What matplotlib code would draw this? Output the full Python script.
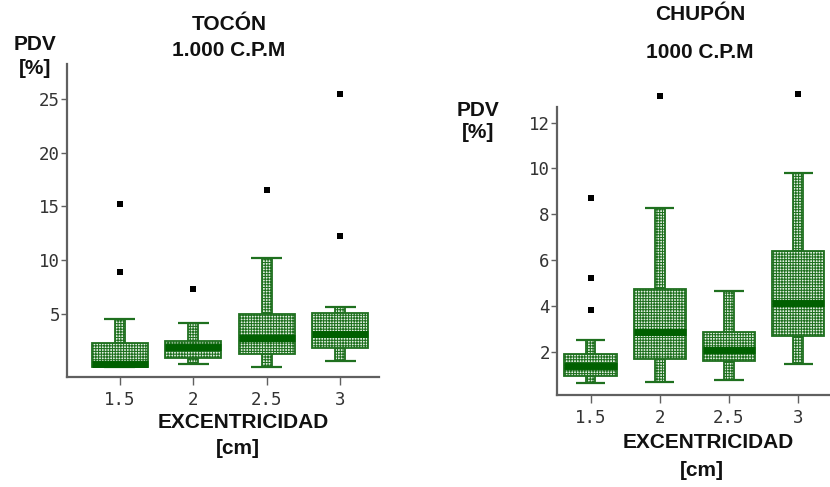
import matplotlib
matplotlib.use('Agg')
import matplotlib.pyplot as plt
import numpy as np

categories = ['1.5', '2', '2.5', '3']

# TOCÓN 1.000 C.P.M
toc_whislo = [0.1, 0.43, 0.12, 0.7]
toc_q1 = [0.1, 0.95, 1.36, 1.9]
toc_med = [0.45, 2.0, 2.85, 3.2]
toc_q3 = [2.35, 2.5, 5.0, 5.15]
toc_whishi = [4.6, 4.2, 10.2, 5.7]
toc_fliers = [[15.2, 8.9], [7.35], [16.5], [25.4, 12.25]]
toc_yticks = [5, 10, 15, 20, 25]

# CHUPÓN 1000 C.P.M
chu_whislo = [0.62, 0.69, 0.76, 1.46]
chu_q1 = [0.91, 1.67, 1.59, 2.7]
chu_med = [1.35, 2.86, 2.07, 4.11]
chu_q3 = [1.89, 4.74, 2.86, 6.41]
chu_whishi = [2.5, 8.29, 4.66, 9.82]
chu_fliers = [[8.7, 5.23, 3.82], [13.17], [], [13.24]]
chu_yticks = [2, 4, 6, 8, 10, 12]

plt.rcParams['hatch.linewidth'] = 0.75

W, H = 830, 487
fig = plt.figure(figsize=(W / 100, H / 100), dpi=100)

GREEN = '#1f701f'
DARK = '#006000'
FILL = '#e4f1e4'
SPINE = '#606060'
TICKC = '#333333'


def px(x, y):
    return x / W, 1 - y / H


def draw(ax, whislo, q1, med, q3, whishi, fliers, yticks, ylim, xlim):
    pos = np.arange(len(categories))
    q1 = np.array(q1); q3 = np.array(q3)
    whislo = np.array(whislo); whishi = np.array(whishi)
    bw, ww, cw = 0.76, 0.14, 0.42
    common = dict(facecolor=FILL, edgecolor=GREEN, hatch='++++++', linewidth=1.3)
    ax.bar(pos, whishi - q3, bottom=q3, width=ww, zorder=2, **common)
    ax.bar(pos, q1 - whislo, bottom=whislo, width=ww, zorder=2, **common)
    ax.hlines(whishi, pos - cw / 2, pos + cw / 2, color=GREEN, lw=1.6, zorder=3)
    ax.hlines(whislo, pos - cw / 2, pos + cw / 2, color=GREEN, lw=1.6, zorder=3)
    ax.bar(pos, q3 - q1, bottom=q1, width=bw, zorder=4, **common)
    ax.hlines(med, pos - bw / 2, pos + bw / 2, color=DARK, lw=5, zorder=5)
    for p, fl in zip(pos, fliers):
        if fl:
            ax.scatter([p] * len(fl), fl, marker='s', s=18, color='black',
                       zorder=6, clip_on=False, linewidths=0)
    ax.set_xlim(*xlim)
    ax.set_ylim(*ylim)
    ax.set_xticks(pos)
    ax.set_xticklabels(categories)
    ax.set_yticks(yticks)
    ax.set_yticklabels([str(t) for t in yticks])
    for s in ['top', 'right']:
        ax.spines[s].set_visible(False)
    for s in ['left', 'bottom']:
        ax.spines[s].set_color(SPINE)
        ax.spines[s].set_linewidth(1.6)
    ax.tick_params(axis='y', length=4, width=1, color=SPINE, pad=1,
                   labelsize=12.5, labelcolor=TICKC)
    ax.tick_params(axis='x', length=6, width=1, color=SPINE, pad=4,
                   labelsize=12.5, labelcolor=TICKC)
    for lab in ax.get_xticklabels() + ax.get_yticklabels():
        lab.set_fontfamily('DejaVu Sans Mono')


axL = fig.add_axes([67 / W, 1 - 377 / H, (379 - 67) / W, (377 - 64) / H])
draw(axL, toc_whislo, toc_q1, toc_med, toc_q3, toc_whishi, toc_fliers,
     toc_yticks, (-0.8, 28.2), (-0.72, 3.53))

axR = fig.add_axes([556.7 / W, 1 - 395 / H, (830 - 556.7) / W, (395 - 106.7) / H])
draw(axR, chu_whislo, chu_q1, chu_med, chu_q3, chu_whishi, chu_fliers,
     chu_yticks, (0.1, 12.7), (-0.49, 3.46))

tkw = dict(fontfamily='Liberation Sans', fontweight='bold', fontsize=15,
           ha='center', va='center', color='#111111')

fig.text(*px(229, 25), 'TOCÓN', **tkw)
fig.text(*px(229, 51), '1.000 C.P.M', **tkw)
fig.text(*px(35, 45), 'PDV', **tkw)
fig.text(*px(35, 68), '[%]', **tkw)
fig.text(*px(243, 423), 'EXCENTRICIDAD', **tkw)
fig.text(*px(238, 448), '[cm]', **tkw)

fig.text(*px(700, 15), 'CHUPÓN', **tkw)
fig.text(*px(700, 52), '1000 C.P.M', **tkw)
fig.text(*px(478, 110), 'PDV', **tkw)
fig.text(*px(478, 133), '[%]', **tkw)
fig.text(*px(708, 442), 'EXCENTRICIDAD', **tkw)
fig.text(*px(702, 470), '[cm]', **tkw)

fig.savefig('out.png', dpi=100)
